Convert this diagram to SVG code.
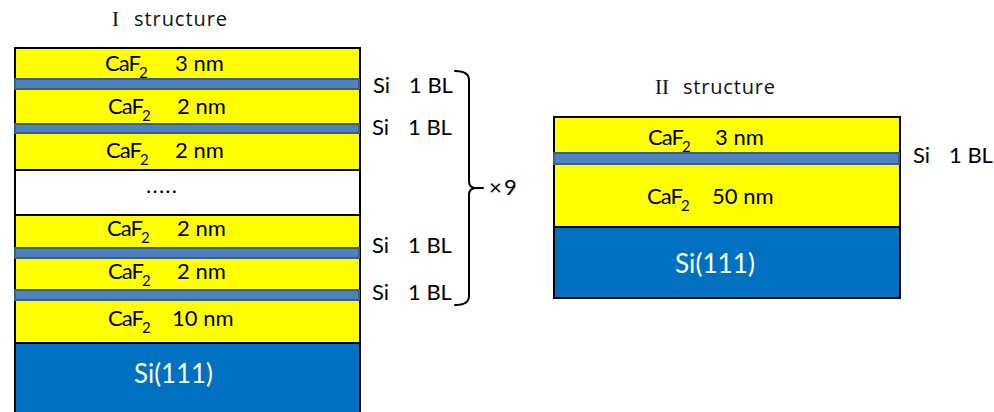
<svg xmlns="http://www.w3.org/2000/svg" width="994" height="412" viewBox="0 0 994 412">
  <style>
    .caf{fill:#FFFF00;stroke:#000;stroke-width:2}
    .gap{fill:#FFFFFF;stroke:#000;stroke-width:2}
    .subs{fill:#0070C0;stroke:#000;stroke-width:2}
    .bl{fill:#4F81BD;stroke:#385D8A;stroke-width:2}
    .t{font-family:Lato,"Liberation Sans",sans-serif;font-size:22px;fill:#000}
    .f{letter-spacing:-1px}
    .s2{font-size:15px;letter-spacing:0}
    .si{font-family:Lato,"Liberation Sans",sans-serif;font-size:26px;fill:#FFFFFF}
    .rn{font-family:"Liberation Serif",serif;font-size:21px;fill:#111}
    .hd{font-family:"Open Sans","Liberation Sans",sans-serif;font-size:20px;fill:#111}
    .brace{fill:none;stroke:#000;stroke-width:2;stroke-linecap:round;stroke-linejoin:round}
  </style>

  <!-- Structure I: multilayer stack on Si(111) -->
  <g id="structure-1">
    <text class="rn" x="112" y="26">I</text>
    <text class="hd" x="134" y="26" textLength="93" lengthAdjust="spacing">structure</text>

    <rect class="caf" x="15" y="48" width="345" height="122"/>
    <rect class="gap" x="15" y="170" width="345" height="45"/>
    <rect class="caf" x="15" y="215" width="345" height="128"/>
    <rect class="subs" x="15" y="343" width="345" height="80"/>

    <rect class="bl" x="15" y="79" width="344" height="10"/>
    <rect class="bl" x="15" y="124" width="344" height="9"/>
    <rect class="bl" x="15" y="248" width="344" height="10"/>
    <rect class="bl" x="15" y="290" width="344" height="10"/>

    <text class="t" x="105" y="71"><tspan class="f">CaF</tspan><tspan class="s2" x="139" y="78">2</tspan><tspan x="175" y="71">3 nm</tspan></text>
    <text class="t" x="108" y="114"><tspan class="f">CaF</tspan><tspan class="s2" x="142" y="121">2</tspan><tspan x="177" y="114">2 nm</tspan></text>
    <text class="t" x="106" y="158"><tspan class="f">CaF</tspan><tspan class="s2" x="140" y="165">2</tspan><tspan x="175" y="158">2 nm</tspan></text>
    <text class="t" x="146" y="193" textLength="31" lengthAdjust="spacing">.....</text>
    <text class="t" x="107" y="236"><tspan class="f">CaF</tspan><tspan class="s2" x="141" y="243">2</tspan><tspan x="177" y="236">2 nm</tspan></text>
    <text class="t" x="108" y="279"><tspan class="f">CaF</tspan><tspan class="s2" x="142" y="286">2</tspan><tspan x="177" y="279">2 nm</tspan></text>
    <text class="t" x="108" y="326"><tspan class="f">CaF</tspan><tspan class="s2" x="142" y="333">2</tspan><tspan x="172" y="326">10 nm</tspan></text>
    <text class="si" x="134" y="383" textLength="79" lengthAdjust="spacingAndGlyphs">Si(111)</text>
  </g>

  <!-- Si bilayer labels for structure I -->
  <g id="labels-1">
    <text class="t" x="373" y="93">Si<tspan x="409">1 BL</tspan></text>
    <text class="t" x="372" y="135">Si<tspan x="408">1 BL</tspan></text>
    <text class="t" x="372" y="253">Si<tspan x="408">1 BL</tspan></text>
    <text class="t" x="372" y="300">Si<tspan x="408">1 BL</tspan></text>
  </g>

  <!-- Repeat brace -->
  <g id="connectors">
    <path class="brace" d="M455,71 Q469,71 469,80 L469,181 Q469,188 476,188 L483,188 M476,188 Q469,188 469,195 L469,296 Q469,305 455,305"/>
  </g>
  <g id="repeat-label">
    <text class="t" x="489" y="195">×<tspan x="504">9</tspan></text>
  </g>

  <!-- Structure II: single Si bilayer on Si(111) -->
  <g id="structure-2">
    <text class="rn" x="655" y="94">II</text>
    <text class="hd" x="683" y="94" textLength="92" lengthAdjust="spacing">structure</text>

    <rect class="caf" x="554" y="117" width="346" height="110"/>
    <rect class="subs" x="554" y="227" width="346" height="71"/>
    <rect class="bl" x="554" y="153" width="345" height="11"/>

    <text class="t" x="648" y="145"><tspan class="f">CaF</tspan><tspan class="s2" x="682" y="152">2</tspan><tspan x="715" y="145">3 nm</tspan></text>
    <text class="t" x="647" y="204"><tspan class="f">CaF</tspan><tspan class="s2" x="681" y="211">2</tspan><tspan x="712" y="204">50 nm</tspan></text>
    <text class="si" x="675" y="273" textLength="80" lengthAdjust="spacingAndGlyphs">Si(111)</text>
  </g>

  <g id="labels-2">
    <text class="t" x="913" y="163">Si<tspan x="949">1 BL</tspan></text>
  </g>
</svg>
